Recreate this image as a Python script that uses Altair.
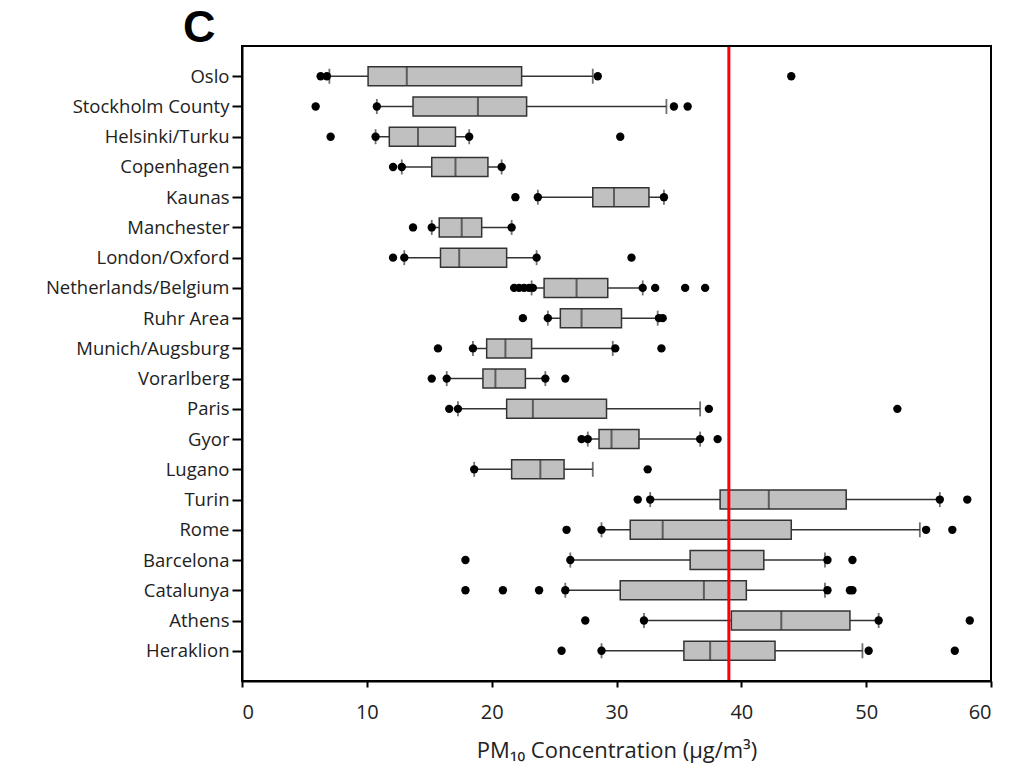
import altair as alt
import pandas as pd

cities = ["Oslo", "Stockholm County", "Helsinki/Turku", "Copenhagen", "Kaunas",
          "Manchester", "London/Oxford", "Netherlands/Belgium", "Ruhr Area",
          "Munich/Augsburg", "Vorarlberg", "Paris", "Gyor", "Lugano", "Turin",
          "Rome", "Barcelona", "Catalunya", "Athens", "Heraklion"]

whisker_low = [7.0, 10.8, 10.7, 12.8, 23.7, 15.2, 13.0, 23.2, 24.5, 18.5,
               16.4, 17.3, 27.7, 18.6, 32.7, 28.8, 26.3, 25.9, 32.2, 28.8]
q1 = [10.1, 13.7, 11.8, 15.2, 28.1, 15.8, 15.9, 24.2, 25.5, 19.6,
      19.3, 21.2, 28.6, 21.6, 38.3, 31.1, 35.9, 30.3, 39.2, 35.4]
median = [13.2, 18.9, 14.1, 17.1, 29.8, 17.6, 17.4, 26.8, 27.2, 21.1,
          20.3, 23.3, 29.6, 23.9, 42.2, 33.7, 39.0, 37.0, 43.2, 37.5]
q3 = [22.4, 22.8, 17.1, 19.7, 32.6, 19.2, 21.2, 29.3, 30.4, 23.2,
      22.7, 29.2, 31.8, 25.8, 48.4, 44.0, 41.8, 40.4, 48.7, 42.7]
whisker_high = [28.1, 34.0, 18.2, 20.8, 33.8, 21.6, 23.6, 32.1, 33.3, 29.7,
                24.3, 36.7, 36.7, 28.1, 55.9, 54.3, 46.7, 46.7, 51.0, 49.7]

points = [
    [6.3, 6.8, 28.5, 44.0],
    [5.9, 10.8, 34.6, 35.7],
    [7.1, 10.7, 18.2, 30.3],
    [12.1, 12.8, 20.8],
    [21.9, 23.7, 33.8],
    [13.7, 15.2, 21.6],
    [12.1, 13.0, 23.6, 31.2],
    [21.8, 22.2, 22.6, 23.0, 23.3, 32.1, 33.1, 35.5, 37.1],
    [22.5, 24.5, 33.4, 33.7],
    [15.7, 18.5, 29.9, 33.6],
    [15.2, 16.4, 24.3, 25.9],
    [16.6, 17.3, 37.4, 52.5],
    [27.2, 27.7, 36.7, 38.1],
    [18.6, 32.5],
    [31.7, 32.7, 55.9, 58.1],
    [26.0, 28.8, 54.8, 56.9],
    [17.9, 26.3, 46.9, 48.9],
    [17.9, 20.9, 23.8, 25.9, 46.9, 48.7, 48.9],
    [27.5, 32.2, 51.0, 58.3],
    [25.6, 28.8, 50.2, 57.1],
]

reference_value = [39.0]
x_domain = [0, 60]
x_ticks = [0, 10, 20, 30, 40, 50, 60]

box_df = pd.DataFrame({
    "city": cities, "lo": whisker_low, "q1": q1, "med": median,
    "q3": q3, "hi": whisker_high,
})
pts_df = pd.DataFrame(
    [(c, v) for c, vals in zip(cities, points) for v in vals],
    columns=["city", "value"],
)
ref_df = pd.DataFrame({"ref": reference_value})
frame_df = pd.DataFrame({"x0": [x_domain[0]], "x1": [x_domain[1]]})

FONT = "Open Sans"
DARK = "#333333"

x_scale = alt.Scale(domain=x_domain, nice=False, zero=True)
y_enc = alt.Y(
    "city:N",
    sort=cities,
    scale=alt.Scale(type="point", domain=cities, padding=1),
    axis=alt.Axis(title=None, labelFont=FONT, labelFontSize=18.5, labelColor="#222",
                  tickSize=10, tickWidth=2, tickColor="black", labelPadding=3,
                  domainColor="black", domainWidth=2, labelLimit=400),
)
x_axis = alt.Axis(
    values=x_ticks, title="PM₁₀ Concentration (µg/m³)", titleFont=FONT,
    titleFontSize=22, titleFontWeight="normal", titleColor="#222", titlePadding=18,
    labelFont=FONT, labelFontSize=20, labelColor="#222", labelPadding=15,
    tickSize=6, tickWidth=2, tickColor="black", domainColor="black", domainWidth=2,
    grid=False,
)

base = alt.Chart(box_df)

whiskers = base.mark_rule(color=DARK, strokeWidth=1.5).encode(
    x=alt.X("lo:Q", scale=x_scale, axis=x_axis), x2="hi:Q", y=y_enc)
caps_lo = base.mark_tick(color=DARK, size=15, thickness=1.8).encode(
    x=alt.X("lo:Q", scale=x_scale), y=y_enc)
caps_hi = base.mark_tick(color=DARK, size=15, thickness=1.8).encode(
    x=alt.X("hi:Q", scale=x_scale), y=y_enc)
boxes = base.mark_bar(size=19, fill="#c0c0c0", stroke=DARK, strokeWidth=1.5).encode(
    x=alt.X("q1:Q", scale=x_scale), x2="q3:Q", y=y_enc)
medians = base.mark_tick(color=DARK, size=19, thickness=2).encode(
    x=alt.X("med:Q", scale=x_scale), y=y_enc)
dots = alt.Chart(pts_df).mark_circle(color="black", size=70, opacity=1).encode(
    x=alt.X("value:Q", scale=x_scale), y=y_enc)
ref = alt.Chart(ref_df).mark_rule(color="#ff0000", strokeWidth=3).encode(
    x=alt.X("ref:Q", scale=x_scale))
frame = alt.Chart(frame_df).mark_rect(fill=None, stroke="black", strokeWidth=2).encode(
    x=alt.X("x0:Q", scale=x_scale), x2="x1:Q")

chart = alt.layer(whiskers, caps_lo, caps_hi, boxes, medians, dots, ref, frame).properties(
    width=749, height=635,
    title=alt.TitleParams("C", anchor="start", frame="group", fontSize=45,
                          font="Liberation Sans", fontWeight="bold", color="black",
                          dx=-59, dy=9, offset=3),
    autosize=alt.AutoSizeParams(type="none"),
    padding={"left": 234, "top": 38, "right": 22, "bottom": 86},
).configure_view(stroke="black", strokeWidth=2).configure(background="white")

chart.save("out.html", embed_options={"renderer": "svg", "actions": False})
